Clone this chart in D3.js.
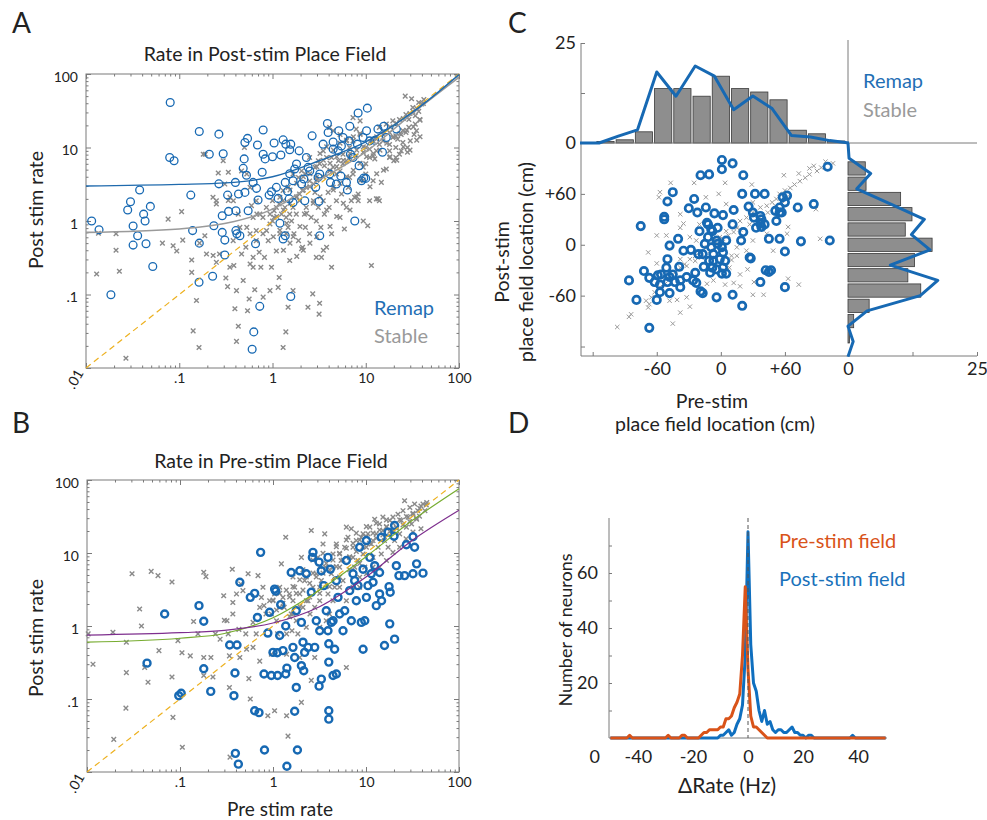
<!DOCTYPE html>
<html>
<head>
<meta charset="utf-8">
<script src="https://cdn.jsdelivr.net/npm/d3@7"></script>
<style>
  body { margin: 0; background: #fff; }
  text { font-family: Lato, "Open Sans", sans-serif; }
</style>
</head>
<body>
<script>
// ---- panel A: rate in post-stim place field, [pre, post] Hz
var remapA = [
  [0.0115,1.0],[0.0138,0.76],[0.0185,0.099],[0.028,1.41],[0.030,1.83],[0.0376,2.64],[0.032,0.855],[0.0358,0.63],
  [0.032,0.47],[0.0415,1.24],[0.043,1.0],[0.049,1.58],[0.044,0.49],[0.052,0.24],[0.079,7.3],[0.088,6.6],[0.08,41],
  [0.133,2.25],[0.139,0.74],[0.164,16.5],[0.164,0.50],[0.163,0.147],[0.21,8.1],[0.228,0.177],[0.266,15.2],[0.266,3.2],
  [0.296,8.2],[0.289,1.18],[0.235,0.86],[0.289,0.70],[0.308,0.55],[0.308,0.345],[0.33,2.25],[0.338,1.35],[0.40,3.35],
  [0.405,1.38],[0.405,0.74],[0.415,0.67],[0.447,0.63],[0.432,2.33],[0.497,7.0],[0.506,11.7],[0.54,13.3],[0.485,5.2],
  [0.526,4.2],[0.506,2.45],[0.548,1.38],[0.658,0.49],[0.62,3.35],[0.674,2.78],[0.69,10.8],[0.70,1.93],[0.73,0.069],
  [0.63,0.031],[0.605,0.018],[0.794,17.3],[0.794,8.1],[0.775,4.6],[0.834,7.0],[0.92,2.25],[0.975,2.5],[1.0,7.5],
  [1.04,11.5],[1.10,2.87],[1.15,2.03],[1.23,7.9],[1.30,12.7],[1.39,11.1],[1.53,9.3],[1.57,11.1],[1.37,3.35],[1.45,2.53],
  [1.51,2.0],[1.20,0.93],[1.30,0.57],[1.37,0.63],[1.57,0.094],[1.53,4.4],[1.66,3.53],[1.73,5.1],[1.81,5.96],[1.66,1.79],
  [1.93,9.0],[2.05,3.18],[2.17,3.72],[2.22,1.89],[2.31,7.3],[2.41,5.37],[2.51,4.8],[2.66,14.4],[2.91,2.87],[3.08,3.92],
  [3.21,4.36],[3.16,1.85],[3.21,0.63],[3.49,11.1],[3.88,21.2],[3.95,16.0],[4.11,4.36],[4.18,3.35],[4.47,11.9],[4.47,9.5],
  [4.85,3.18],[5.06,9.0],[5.14,16.9],[5.48,10.5],[5.71,13.7],[5.40,4.1],[6.21,3.35],[6.36,2.64],[6.74,19.5],[6.85,8.1],
  [6.63,12.3],[7.31,7.3],[7.63,1.0],[8.28,29.4],[8.14,11.1],[8.49,5.65],[9.0,3.53],[9.36,13.7],[9.52,3.84],[10,3.8],
  [10.2,16.9],[10.4,34.3],[11.0,12.3],[12.5,12.5],[13.5,17.8],[15.1,8.6],[15.6,19.5],[16.6,13.7],[21.3,17.8]
];
var stableA = [
  [0.013,0.19],[0.0136,0.68],[0.021,0.40],[0.0228,0.207],[0.021,0.67],[0.0268,0.0136],[0.066,0.50],[0.076,1.06],
  [0.086,0.46],[0.094,0.39],[0.106,1.34],[0.109,0.55],[0.136,0.295],[0.136,0.2],[0.141,0.032],[0.153,0.083],[0.163,0.019],
  [0.181,8.1],[0.165,0.50],[0.188,0.63],[0.196,0.356],[0.231,0.34],[0.25,1.89],[0.262,4.5],[0.25,0.274],[0.27,0.356],
  [0.296,6.6],[0.308,3.18],[0.316,0.168],[0.33,0.128],[0.336,4.6],[0.349,0.235],[0.379,0.54],[0.385,0.248],[0.411,0.113],
  [0.395,0.064],[0.43,0.037],[0.411,0.023],[0.43,1.24],[0.447,0.82],[0.466,0.356],[0.485,0.155],[0.518,0.44],[0.54,0.06],
  [0.562,0.087],[0.575,0.26],[0.595,1.62],[0.62,0.32],[0.62,0.235],[0.645,0.116],[0.67,0.54],[0.68,1.24],[0.72,0.375],
  [0.75,0.235],[0.794,0.092],[0.82,0.32],[0.863,0.74],[0.9,0.54],[0.94,0.113],[0.975,0.235],[1.0,1.0],[1.04,1.38],
  [1.1,0.39],[1.15,0.125],[1.18,0.17],[1.2,0.67],[1.25,1.24],[1.3,0.019],[1.36,1.53],[1.39,0.031],[1.4,0.67],[1.47,0.82],
  [1.47,0.067],[1.53,0.29],[1.6,1.0],[1.66,0.113],[1.7,0.67],[1.8,1.24],[1.9,0.54],[1.95,1.89],[2.05,0.42],[2.1,0.44],
  [2.2,1.24],[2.25,0.82],[2.3,1.53],[2.4,0.067],[2.5,0.67],[2.6,1.12],[2.7,0.102],[2.75,1.89],[2.85,2.45],[2.95,0.32],
  [2.95,1.0],[3.1,1.53],[3.16,0.054],[3.2,0.076],[3.3,0.82],[3.35,0.32],[3.5,1.89],[3.6,1.24],[3.8,0.44],[3.95,2.45],
  [4.05,1.53],[4.3,0.235],[4.3,0.67],[4.47,2.87],[4.85,1.89],[5.3,1.12],[5.5,2.33],[5.9,0.78],[6.2,1.53],[6.5,2.87],
  [7.0,1.89],[7.6,2.1],[8.3,2.33],[9.4,1.0],[10.5,0.86],[11,1.89],[11.5,0.248],[12,3.53],[12.5,7.0],[13.5,2.0],[14,1.89],
  [14.7,3.35],[16.6,5.1],[18,7.3],[20,6.6],[21,10],[23,8.1],[25,11.7],[26.5,50],[31,46],[29,24],[28,10],[32,31],[34,27],
  [37,31],[40,39],[35,16.9],[33,15],[30,12.3],[27,16],[24,15],[22,13],[19.5,13.7],[18,11],[15.3,15],[14,11],[13,9],
  [12,7.7],[11,7.3],[10,6],[9.4,5.4],[8.7,23],[7.9,17.8],[7.3,12.3],[6.7,10],[6.2,6.6],[5.7,6],[5.3,4.8],[4.85,4.36],
  [4.47,5.4],[4.1,4.8],[3.8,7.3],[3.5,9],[3.2,6],[2.95,3.9],[2.75,3.18],[2.5,3.5],[2.3,2.87],[2.1,2.6],[1.95,2.33],
  [1.8,2.1],[1.66,1.53],[1.53,1.24],[1.4,1.12],[1.3,1.89],[1.2,2.1],[1.1,1.53],[1.0,1.89],[0.94,1.24],[0.86,1.53],
  [0.79,1.12],[0.73,1.24],[0.67,1.89],[0.62,1.12],[0.575,2.87],[0.53,4.36],[0.5,10],[0.466,4.8],[0.38,1.89],[0.35,2.1],
  [0.336,1.9],[0.25,1.7],[0.23,2.1],[0.19,8.1],[4.47,16.9],[4.1,18.8],[5.3,15],[6.2,12.3],[7.3,25.5],[8.7,15],[10,10],
  [12,12.3],[14,18.8],[16.6,20.8],[19.5,23],[23,24],[27,28],[32,35],[37,41],[42,45],[38,24],[34,20.8],[29,18.8],[25,17],
  [21,14.4],[18,16],[15.3,12.3],[13,13],[11,9.5],[9.4,8.6],[7.9,7.7],[6.7,7.3],[5.7,8.1],[5.1,6.6],[4.3,7.3],[3.6,5.65],
  [3.1,6.6],[2.85,5.4],[2.5,7.3],[2.25,4.36],[2.05,4.8],[1.9,3.9],[1.66,4.36],[1.47,2.87],[1.3,2.6],[1.18,1.7],[1.04,1.12],
  [0.94,0.91],[0.79,0.67],[0.67,0.74],[0.575,0.67],[0.53,0.82],[18,9],[21,7.3],[24,9],[28,8.6],[10,4.36],[8.7,3.53],
  [7.3,4.36],[8.3,1.89],[6.7,3.92],[13,2.0],
  [1.11,1.15],[1.31,1.41],[1.54,1.74],[1.82,2.14],[2.14,2.64],[2.52,2.93],[2.98,3.6],[3.51,4.0],[4.14,4.9],[4.88,5.5],
  [5.75,6.7],[6.78,8.3],[8.0,9.2],[9.42,10.2],[11.1,12],[13.1,14],[15.5,16.4],[18.2,19.1],[21.5,21.2],[25.3,24.8],
  [29.8,29],[35.2,34],[41.5,39.7],[1.2,0.75],[1.42,0.93],[1.67,0.61],[1.97,0.84],[2.32,1.27],[2.74,1.74],[3.23,2.14],
  [3.81,1.41],[4.49,2.64],[5.3,3.25],[6.24,4.0],[7.36,4.9],[8.68,6.1],[10.2,7.5],[12.1,8.3],[14.2,9.2],[16.8,11.4],
  [19.8,14],[23.3,15.5],[27.5,17.2],[32.4,19.1],[38.2,23.6],[1.54,0.5],[2.14,0.4],[2.98,0.61],[4.14,0.84],[5.75,1.74],
  [8.0,2.14],[11.1,2.93],[15.5,4.9],[21.5,6.7],[29.8,9.2],[38.2,14],[1.02,0.61],[1.31,0.4],[1.82,0.33],[2.52,0.5],
  [3.51,0.4],[4.88,1.15],[6.78,1.41],[9.42,3.6],[13.1,4.4],[18.2,7.5],[25.3,10.2],[35.2,12.6],[3.23,8.3],[3.81,10.2],
  [4.49,9.2],[5.3,11.4],[6.24,12.6],[7.36,14],[8.68,15.5],[4.88,7.5],[4.14,6.1],[3.51,6.7],[2.98,5.5],[2.52,4.4],
  [2.14,4.0],[1.82,3.25],[1.54,2.64]
];
var fitRemapA = [[0.01,3.0],[0.1,3.15],[0.316,3.3],[1,4.0],[3.16,6.6],[10,11.9],[31.6,30],[100,98]];
var fitStableA = [[0.01,0.70],[0.1,0.78],[0.316,0.93],[1,1.45],[3.16,3.6],[10,8.7],[31.6,29],[100,90]];

// ---- panel B: rate in pre-stim place field
var remapB = [
  [0.0442,0.31],[0.0684,1.46],[0.097,0.111],[0.103,0.12],[0.16,1.9],[0.18,1.16],[0.18,0.26],[0.214,0.127],[0.342,0.55],
  [0.41,0.55],[0.39,0.227],[0.38,0.111],[0.394,0.018],[0.424,0.0128],[0.44,3.97],[0.57,2.47],[0.635,2.8],[0.68,1.31],
  [0.635,0.069],[0.707,0.065],[0.736,10.2],[0.88,0.80],[0.92,1.54],[0.80,0.22],[0.96,0.21],[0.81,0.02],[1.04,3.2],
  [1.07,3.0],[1.21,1.96],[1.18,0.74],[1.0,0.435],[1.11,0.43],[1.28,0.46],[1.37,1.0],[1.12,0.21],[1.37,0.22],[1.41,0.265],
  [1.57,5.4],[1.41,0.012],[1.64,0.51],[1.71,0.37],[1.78,0.144],[1.83,0.02],[1.71,0.068],[1.78,1.62],[1.94,5.7],[2.02,1.12],
  [2.1,0.6],[2.02,0.286],[2.14,0.244],[2.19,0.435],[2.28,5.2],[2.38,0.51],[2.58,2.9],[2.65,8.7],[2.69,10.2],[2.81,0.51],
  [2.92,1.18],[3.13,7.5],[3.18,0.86],[3.31,5.7],[3.31,0.187],[3.13,0.15],[3.51,3.57],[3.74,1.62],[3.9,0.86],[4.13,6.0],
  [3.9,8.7],[3.98,0.57],[3.98,0.32],[3.98,0.069],[3.98,0.053],[4.24,1.12],[4.42,1.18],[4.42,0.21],[4.6,0.48],[4.8,0.22],
  [4.8,4.18],[5.0,2.47],[5.2,1.46],[5.66,0.86],[5.9,1.62],[6.15,7.9],[6.67,3.05],[6.95,1.18],[7.25,5.2],[7.55,4.18],
  [7.87,2.22],[8.2,3.57],[8.55,12],[8.9,1.12],[9.3,0.48],[9.7,1.18],[9.3,6.0],[10.1,14.8],[10.1,2.47],[10.5,3.57],[11,8.7],
  [11.4,5.2],[11.9,3.97],[12.4,6.7],[12.9,1.9],[14,2.75],[14,5.4],[14.6,16.4],[14.7,2.22],[15.8,0.54],[17.3,19.3],
  [17.7,3.46],[18.2,2.9],[18,1.07],[20,17],[20.3,0.66],[20.3,23.8],[21.2,6.7],[22.6,4.9],[26,4.9],[27.2,13],[32,16.7],
  [33.3,12],[41,5.3],[32,5.2],[35,7.1]
];
var stableB = [
  [0.0103,0.78],[0.0116,0.30],[0.019,0.82],[0.0194,0.028],[0.0265,0.6],[0.0265,0.23],[0.0262,0.075],[0.0305,5.2],
  [0.0368,1.71],[0.0385,1.0],[0.0417,0.27],[0.0453,0.17],[0.049,5.6],[0.058,4.9],[0.0594,0.46],[0.082,4.0],[0.082,0.2],
  [0.084,0.056],[0.095,0.63],[0.105,0.43],[0.106,0.0218],[0.129,0.39],[0.14,1.15],[0.156,0.78],[0.18,5.45],[0.19,4.75],
  [0.18,0.37],[0.18,0.21],[0.215,0.37],[0.226,0.2],[0.24,0.78],[0.27,0.66],[0.295,2.6],[0.3,1.2],[0.32,1.18],[0.33,0.78],
  [0.34,0.39],[0.34,0.144],[0.345,0.016],[0.365,6.0],[0.37,2.1],[0.405,2.75],[0.43,0.9],[0.45,3.77],[0.475,3.05],[0.51,0.78],
  [0.54,5.2],[0.55,0.19],[0.57,0.1],[0.61,0.51],[0.66,0.78],[0.69,4.9],[0.72,1.8],[0.75,2.47],[0.78,3.4],[0.8,1.9],
  [0.84,1.46],[0.88,0.059],[0.92,2.22],[0.96,1.46],[1.0,2.22],[1.04,2.75],[1.04,0.069],[1.09,1.18],[1.12,0.78],[1.18,3.4],
  [1.23,7.1],[1.28,2.47],[1.32,1.8],[1.37,16.4],[1.4,0.059],[1.45,0.031],[1.5,2.75],[1.57,1.46],[1.6,0.86],[1.64,2.22],
  [1.71,3.4],[1.78,1.18],[1.85,0.78],[1.94,2.75],[2.02,0.09],[2.02,8.7],[2.1,1.8],[2.19,4.18],[2.28,0.96],[2.38,2.22],
  [2.5,1.46],[2.58,20.3],[2.58,0.18],[2.69,3.4],[2.81,1.8],[2.92,5.2],[3.04,8.7],[3.18,2.22],[3.31,4.18],[3.45,13.3],
  [3.6,18.3],[3.66,6.4],[3.9,2.75],[4.05,1.46],[4.24,5.2],[4.42,9.7],[4.6,3.4],[4.8,13.3],[5.2,6.4],[5.4,7.9],[5.66,4.18],
  [5.9,12],[6.15,22.6],[6.4,16.4],[6.67,8.7],[6.95,21.5],[7.25,12],[7.55,6.4],[7.87,14.8],[8.2,7.9],[8.55,4.65],[8.9,16.4],
  [9.3,9.7],[9.7,6.4],[10.1,12],[10.5,18.3],[11,22.6],[11.4,13.3],[11.9,8.7],[12.4,29],[12.9,18.3],[13.5,12],[14,25],
  [14.6,9.7],[15.2,31],[15.8,14.8],[16.6,22.6],[17.3,12],[18,28],[18.7,20.3],[19.5,31],[20.3,14.8],[21.2,22.6],[22.1,34],
  [23,18.3],[24,28],[25,38],[26,52],[27.2,22.6],[28.4,31],[29.6,42],[30.9,25],[32,34],[33.3,47],[35,29],[36,38],[37.6,32],
  [39,44],[41,47],[43,38],[45,49],[39,21.5],[32,19.3],[27,15.6],[23,12],[19.5,10.2],[16.6,7.9],[14,6.4],[11.9,6.4],
  [10.1,5.2],[8.55,3.4],[7.25,3.4],[6.15,2.22],[5.2,3.4],[4.42,2.22],[3.74,1.18],[3.18,0.96],[6.15,0.27],[2.81,0.37],
  [1.94,0.37],[1.4,0.41],[0.96,0.41],[0.72,0.33],[0.61,1.12],[0.52,0.48],[0.44,0.37],[0.37,1.46],[5.2,9.7],[7.25,8.7],
  [9.3,18.3],[11.9,14.8],[15.2,20.3],[19.5,20.3],[4.42,6.4],[3.18,3.4],[2.28,2.22],[1.64,1.46],[1.18,1.8],[1.4,0.78],
  [1.0,2.27],[1.18,2.8],[1.39,3.1],[1.64,3.46],[1.94,4.3],[2.28,4.7],[2.69,5.3],[3.18,6.5],[3.74,7.2],[4.42,8.0],
  [5.2,9.9],[6.15,11.6],[7.25,13.6],[8.55,15.1],[10.1,16.8],[11.9,18.7],[14,20.7],[16.6,23],[19.5,25.6],[23,28.4],
  [27.2,31.6],[32,35],[37.8,41],[44.5,45.6],[1.09,1.66],[1.28,2.05],[1.51,2.5],[1.78,2.8],[2.1,3.1],[2.48,3.85],
  [2.92,4.7],[3.45,5.3],[4.06,5.9],[4.8,6.5],[5.66,8.0],[6.67,8.9],[7.87,10.5],[9.3,12.2],[10.9,13.6],[12.9,15.9],
  [15.2,17.7],[18,19.7],[21.2,21.9],[25,24.3],[29.5,27],[34.8,30],[4.8,12.2],[6.15,15.1],[7.87,18.7],[10.1,23],
  [12.9,25.6],[16.6,28.4],[3.45,9.9],[2.69,8.0],[2.1,5.9],[1.64,4.7],[1.51,1.34],[1.94,1.84],[2.48,2.5],[3.18,2.8],
  [4.06,3.46],[5.2,4.7],[6.67,5.9],[8.55,7.2]
];
var fitPurpleB = [[0.01,0.75],[0.1,0.81],[0.3,0.87],[1,1.1],[3.16,1.84],[10,4.7],[31.6,15],[100,38.6]];
var fitGreenB = [[0.01,0.60],[0.1,0.68],[0.3,0.79],[1,1.3],[3.16,3.1],[10,8.9],[31.6,28],[100,76]];
var unityLine = [[0.01,0.01],[100,100]];

// ---- panel C: place field location, [pre, post] cm
var remapC = [
  [1,100],[11,96],[1,89],[-19,82],[-11,83],[21,82],[100,92],[-45,62],[-50,51],[-25,54],[-30,43],[-22,38],[-14,44],
  [-6,37],[2,35],[12,41],[20,60],[32,60],[41,60],[26,45],[30,38],[31,32],[37,25],[38,21],[51,40],[55,44],[58,56],
  [62,58],[60,50],[57,38],[52,28],[72,44],[87,48],[102,5],[75,4],[60,-8],[55,7],[45,7],[27,-15],[19,5],[21,15],[11,24],
  [-3,20],[-12,24],[-8,16],[-20,16],[-12,9],[-3,1],[2,-9],[-7,-11],[-11,-19],[2,-27],[5,-34],[1,-34],[-4,-29],[-8,-27],
  [-16,-26],[-21,-11],[-28,-6],[-35,-7],[-40,7],[-48,-1],[-53,33],[-53,30],[-75,22],[-72,-31],[-67,-39],[-50,-17],
  [-51,-27],[-39,-26],[-45,-35],[-56,-35],[-59,-36],[-62,-44],[-57,-47],[-50,-44],[-48,-38],[-43,-44],[-38,-50],
  [-57,-56],[-60,-65],[-48,-57],[-38,-42],[-32,-38],[-24,-33],[-26,-42],[-23,-45],[-19,-55],[-17,-57],[-4,-62],[11,-59],
  [20,-72],[-86,-42],[-79,-65],[-67,-98],[28,-16],[37,-44],[42,-30],[47,-30],[60,-50],[45,-32],[-13,26],[-9,18],[-15,1],
  [-9,-3],[-4,5],[1,-3],[5,5],[-17,-11],[-7,-19],[-1,-17],[4,-19],[-10,-33],[33,20],[37,34],[41,24],[38,30],[55,38]
];
var stableC = [
  [-97,-97],[-86,-85],[-84,-82],[-70,-66],[-67,-70],[-68,-74],[-45,-93],[-38,-80],[-29,-73],[-60,-22],[-68,-9],[-60,11],
  [-57,62],[-58,56],[-47,73],[-25,73],[-14,56],[-2,60],[4,73],[29,71],[59,82],[73,84],[83,90],[87,93],[98,98],[105,96],
  [89,42],[93,7],[63,21],[63,-40],[73,-47],[30,-59],[40,-59],[12,-45],[18,-49],[4,-47],[-7,-42],[-13,-46],[-32,-62],
  [-41,-65],[-48,-66],[25,-29],[31,-44],[-38,20],[-35,25],[10,-18],[10,-13],[15,-13],[24,-7],[7,11],[15,20],[18,28],
  [24,32],[30,38],[37,44],[43,46],[48,50],[52,54],[55,60],[60,64],[65,67],[69,71],[74,75],[79,79],[83,83],[90,87],[94,91],
  [5,16],[-1,9],[-7,5],[-13,-3],[-20,-9],[-24,-13],[-29,-17],[-34,-23],[-38,-27],[-43,-33],[-48,-38],[-52,-46],[-57,-50],
  [-62,-56],[-65,-62],[-32,-25],[-24,-19],[-18,-15],[-10,-7],[-3,1],[2,7],[12,15],[18,18],[27,24],[35,30],[44,38],[51,46],
  [57,52],[62,56],[-51,11],[-38,-17],[-29,9],[15,-3],[30,5],[43,13],[62,13],[49,-7],[8,-27],[18,-35],[-23,5],[-20,24],
  [-38,36],[5,48],[30,50]
];
var binCenters = [-108,-90,-72,-54,-36,-18,0,18,36,54,72,90,108];
var stablePreCount = [0.4,0.8,2.8,13.6,13.6,11.7,16.7,13.6,12.75,10.8,3.2,2.3,0.5];
var stablePostCount = [0.3,1.1,4.1,14.1,11.6,12.9,16.3,11.1,12.4,10.2,3.5,3.35,0];
var remapBins = [-132,-114,-96,-78,-60,-42,-24,-6,12,30,48,66,84,102,120];
var remapPreCount = [0,0,1.7,3.3,17.75,11.7,19.25,16.7,8.3,11.75,8.6,1.9,1.5,0.6,0];
var remapPostCount = [0,1.0,0,3.7,14,17.4,8.2,15.9,12.3,14.8,8.3,1.7,4.4,0.2,0];

// ---- panel D: distribution of rate change, 1 Hz bins from -50 to 50
var rateBins = d3.range(-50, 51);
var preFieldCount = [
  0,0,0,0,0,0,0,1,0,0,0,0,0,0,0,0,0,0,0,0,0,1,0,0,0,0,1,1,0,0,0,0,0,
  1,2,2,3,3,3,3,4,4,7,7,8,11,13,16,30,55,25,8,4,4,3,2,1,
  0,0,0,0,0,0,0,0,0,0,0,0,0,0,0,0,0,0,0,0,0,0,0,0,0,0,0,0,0,0,0,0,0,0,0,0,0,0,0,0,0,0,0,0
];
var postFieldCount = [
  0,0,0,0,0,0,0,0,0,0,0,0,0,0,0,0,0,0,0,0,0,0,0,0,0,0,0,0,0,0,0,0,0,0,0,0,0,0,0,0,
  1,1,2,3,1,2,5,7,12,30,75,34,20,17,10,6,10,5,6,3,2,3,3,2,2,3,4,2,2,1,1,0,1,1,
  0,0,0,0,0,0,0,0,0,0,0,0,0,0,1,0,0,0,0,0,0,0,0,0,0,0,0
];

var BLUE = "#1769b3", GREY = "#8a8a8a", AXIS = "#7a7a7a", TXT = "#222";
var svg = d3.select("body").append("svg").attr("width", 987).attr("height", 820);

function cross(s) {
    return "M" + (-s) + "," + (-s) + "L" + s + "," + s + "M" + (-s) + "," + s + "L" + s + "," + (-s);
}
function label(x, y, str, size, opts) {
    opts = opts || {};
    var t = svg.append("text").attr("x", x).attr("y", y).text(str)
        .attr("font-size", size).attr("fill", opts.fill || TXT)
        .attr("text-anchor", opts.anchor || "start");
    if (opts.rotate) t.attr("transform", "rotate(" + opts.rotate + "," + x + "," + y + ")");
    return t;
}
function styleAxis(g, size) {
    g.select(".domain").remove();
    g.selectAll(".tick line").attr("stroke", AXIS);
    g.selectAll(".tick text").attr("fill", TXT).attr("font-size", size)
        .attr("font-family", "Lato, 'Open Sans', sans-serif");
    return g;
}

// log-log scatter panel (A and B)
function logPanel(box, remap, stable, ring, fits) {
    var x = d3.scaleLog().domain([0.01, 100]).range([box.l, box.r]),
        y = d3.scaleLog().domain([0.01, 100]).range([box.b, box.t]);
    var minor = [];
    [0.01, 0.1, 1, 10].forEach(function (d) {
        for (var m = 2; m < 10; m++) minor.push(d * m);
    });
    var major = [0.01, 0.1, 1, 10, 100];
    var fmt = function (d) { return d === 0.01 ? "" : String(d).replace(/^0\./, "."); };
    var sides = [
        [d3.axisBottom(x), "translate(0," + box.b + ")", true],
        [d3.axisTop(x), "translate(0," + box.t + ")", false],
        [d3.axisLeft(y), "translate(" + box.l + ",0)", true],
        [d3.axisRight(y), "translate(" + box.r + ",0)", false]
    ];
    sides.forEach(function (s, i) {
        var vertical = i > 1;
        styleAxis(svg.append("g").attr("transform", s[1])
            .call(s[0].tickValues(minor).tickSize(-2.5).tickFormat("")), 14);
        var g = styleAxis(svg.append("g").attr("transform", s[1])
            .call(s[0].tickValues(major).tickSize(-5).tickPadding(vertical ? 8 : 5)
                .tickFormat(s[2] ? fmt : "")), 14);
        if (vertical) g.selectAll(".tick text").attr("dy", "0.5em");
    });
    svg.append("rect").attr("x", box.l).attr("y", box.t)
        .attr("width", box.r - box.l).attr("height", box.b - box.t)
        .attr("fill", "none").attr("stroke", AXIS).attr("stroke-width", 1);
    label(box.l - 2, box.b + 5, ".01", 14, { anchor: "end", rotate: -60 });

    svg.append("g").selectAll("path").data(stable).enter().append("path")
        .attr("d", cross(2.3))
        .attr("transform", function (d) { return "translate(" + x(d[0]) + "," + y(d[1]) + ")"; })
        .attr("stroke", GREY).attr("stroke-width", 1.4).attr("fill", "none");
    svg.append("g").selectAll("circle").data(remap).enter().append("circle")
        .attr("cx", function (d) { return x(d[0]); })
        .attr("cy", function (d) { return y(d[1]); })
        .attr("r", ring.r).attr("fill", "none").attr("stroke", BLUE).attr("stroke-width", ring.w);

    var line = d3.line().x(function (d) { return x(d[0]); }).y(function (d) { return y(d[1]); })
        .curve(d3.curveMonotoneX);
    fits.forEach(function (f) {
        svg.append("path").attr("d", line(f.data)).attr("fill", "none")
            .attr("stroke", f.color).attr("stroke-width", f.w || 1.3)
            .attr("stroke-dasharray", f.dash || null);
    });
}

// ---- A
label(12, 33, "A", 28);
label(265, 61, "Rate in Post-stim Place Field", 19.5, { anchor: "middle" });
logPanel({ l: 86, r: 459, t: 74, b: 368 }, remapA, stableA, { r: 3.9, w: 1.3 }, [
    { data: unityLine, color: "#EDB120", dash: "6,4", w: 1.2 },
    { data: fitStableA, color: "#9a9a9a", w: 1.6 },
    { data: fitRemapA, color: "#1f6aad", w: 1.4 }
]);
label(43, 210, "Post stim rate", 19.5, { anchor: "middle", rotate: -90 });
label(374, 315, "Remap", 20, { fill: "#1f6fb5" });
label(374, 343, "Stable", 20, { fill: "#9a9a9a" });

// ---- B
label(12, 433, "B", 28);
label(271, 468, "Rate in Pre-stim Place Field", 19.5, { anchor: "middle" });
logPanel({ l: 87, r: 459, t: 480, b: 772 }, remapB, stableB, { r: 3.5, w: 2.4 }, [
    { data: unityLine, color: "#EDB120", dash: "6,4", w: 1.2 },
    { data: fitGreenB, color: "#77AC30", w: 1.2 },
    { data: fitPurpleB, color: "#7E2F8E", w: 1.2 }
]);
label(43, 638, "Post stim rate", 19.5, { anchor: "middle", rotate: -90 });
label(280, 816, "Pre stim rate", 19, { anchor: "middle" });

// ---- C
label(508, 33, "C", 28);
var xC = d3.scaleLinear().domain([-130, 120]).range([582, 849]),
    yC = d3.scaleLinear().domain([-130, 120]).range([355, 143]),
    yTop = d3.scaleLinear().domain([0, 25]).range([143, 43]),
    xRight = d3.scaleLinear().domain([0, 25]).range([848, 977]);

svg.append("g").selectAll("rect").data(binCenters).enter().append("rect")
    .attr("x", function (d) { return xC(d - 9) + 1; })
    .attr("width", xC(9) - xC(-9) - 2)
    .attr("y", function (d, i) { return yTop(stablePreCount[i]); })
    .attr("height", function (d, i) { return yTop(0) - yTop(stablePreCount[i]); })
    .attr("fill", "#8e8e8e").attr("stroke", "#3a3a3a").attr("stroke-width", 0.8);
svg.append("g").selectAll("rect").data(binCenters).enter().append("rect")
    .attr("y", function (d) { return yC(d + 9) + 1; })
    .attr("height", yC(-9) - yC(9) - 2)
    .attr("x", xRight(0))
    .attr("width", function (d, i) { return xRight(stablePostCount[i]) - xRight(0); })
    .attr("fill", "#8e8e8e").attr("stroke", "#3a3a3a").attr("stroke-width", 0.8);

svg.append("line").attr("x1", 581).attr("x2", 581).attr("y1", 43).attr("y2", 356).attr("stroke", AXIS);
svg.append("line").attr("x1", 581).attr("x2", 977).attr("y1", 356).attr("y2", 356).attr("stroke", AXIS);
svg.append("line").attr("x1", 581).attr("x2", 977).attr("y1", 143).attr("y2", 143).attr("stroke", AXIS);
svg.append("line").attr("x1", 848).attr("x2", 848).attr("y1", 40).attr("y2", 143).attr("stroke", AXIS);

var signed = function (d) { return d === -120 ? "" : (d > 0 ? "+" + d : String(d)); };
styleAxis(svg.append("g").attr("transform", "translate(581,0)")
    .call(d3.axisLeft(yC).tickValues([-120, -60, 0, 60]).tickSize(-4).tickPadding(5).tickFormat(signed)), 18);
styleAxis(svg.append("g").attr("transform", "translate(581,0)")
    .call(d3.axisLeft(yTop).tickValues([0, 12.5, 25]).tickSize(-4).tickPadding(5)
        .tickFormat(function (d) { return d === 12.5 ? "" : d; })), 18);
styleAxis(svg.append("g").attr("transform", "translate(0,356)")
    .call(d3.axisBottom(xC).tickValues([-120, -60, 0, 60]).tickSize(-4).tickPadding(6).tickFormat(signed)), 18);
styleAxis(svg.append("g").attr("transform", "translate(0,356)")
    .call(d3.axisBottom(xRight).tickValues([0, 12.5, 25]).tickSize(-4).tickPadding(6)
        .tickFormat(function (d) { return d === 12.5 ? "" : d; })), 18);

svg.append("g").selectAll("path").data(stableC).enter().append("path")
    .attr("d", cross(2.2))
    .attr("transform", function (d) { return "translate(" + xC(d[0]) + "," + yC(d[1]) + ")"; })
    .attr("stroke", "#9a9a9a").attr("stroke-width", 1).attr("fill", "none");
svg.append("g").selectAll("circle").data(remapC).enter().append("circle")
    .attr("cx", function (d) { return xC(d[0]); })
    .attr("cy", function (d) { return yC(d[1]); })
    .attr("r", 3.7).attr("fill", "none").attr("stroke", BLUE).attr("stroke-width", 2.7);

var clipC = svg.append("clipPath").attr("id", "clipC");
clipC.append("rect").attr("x", 580).attr("y", 30).attr("width", 400).attr("height", 327);
svg.append("path").attr("clip-path", "url(#clipC)")
    .attr("d", d3.line().x(function (d) { return xC(d); })
        .y(function (d, i) { return yTop(remapPreCount[i]); })(remapBins))
    .attr("fill", "none").attr("stroke", BLUE).attr("stroke-width", 3).attr("stroke-linejoin", "round");
svg.append("path").attr("clip-path", "url(#clipC)")
    .attr("d", d3.line().y(function (d) { return yC(d); })
        .x(function (d, i) { return xRight(remapPostCount[i]); })(remapBins))
    .attr("fill", "none").attr("stroke", BLUE).attr("stroke-width", 3).attr("stroke-linejoin", "round");

label(863, 88, "Remap", 20, { fill: "#1f6fb5" });
label(863, 117, "Stable", 20, { fill: "#9a9a9a" });
label(712, 408, "Pre-stim", 19.5, { anchor: "middle" });
label(715, 431, "place field location (cm)", 19.5, { anchor: "middle" });
label(509, 262, "Post-stim", 19.5, { anchor: "middle", rotate: -90 });
label(533, 262, "place field location (cm)", 19.5, { anchor: "middle", rotate: -90 });

// ---- D
label(508, 433, "D", 28);
var xD = d3.scaleLinear().domain([-50.5, 50.5]).range([609, 887]),
    yD = d3.scaleLinear().domain([0, 80]).range([738, 518]);
styleAxis(svg.append("g").attr("transform", "translate(609,0)")
    .call(d3.axisLeft(yD).tickValues([10, 20, 30, 40, 50, 60, 70]).tickSize(-3).tickPadding(11)
        .tickFormat(function (d) { return d % 20 === 0 ? d : ""; })), 18);
svg.append("line").attr("x1", 609).attr("x2", 609).attr("y1", 518).attr("y2", 738).attr("stroke", AXIS);
svg.append("line").attr("x1", 609).attr("x2", 887).attr("y1", 738).attr("y2", 738).attr("stroke", AXIS);
styleAxis(svg.append("g").attr("transform", "translate(0,738)")
    .call(d3.axisBottom(xD).tickValues([-40, -20, 0, 20, 40]).tickSize(0).tickPadding(12)
        .tickFormat(function (d) { return String(d); })), 18);
label(600, 763, "0", 18, { anchor: "end" });

var lineD = function (counts) {
    return d3.line().x(function (d) { return xD(d); })
        .y(function (d, i) { return yD(counts[i]); })(rateBins);
};
svg.append("path").attr("d", lineD(postFieldCount)).attr("fill", "none")
    .attr("stroke", "#0f6fbf").attr("stroke-width", 3).attr("stroke-linejoin", "round");
svg.append("path").attr("d", lineD(preFieldCount)).attr("fill", "none")
    .attr("stroke", "#D95319").attr("stroke-width", 3).attr("stroke-linejoin", "round");
svg.append("line").attr("x1", xD(0)).attr("x2", xD(0)).attr("y1", yD(80)).attr("y2", yD(0))
    .attr("stroke", "#555").attr("stroke-width", 1).attr("stroke-dasharray", "4,3");

label(779, 548, "Pre-stim field", 20, { fill: "#D95319" });
label(779, 586, "Post-stim field", 20, { fill: "#1a72bb" });
label(727, 793, "\u0394Rate (Hz)", 21, { anchor: "middle" });
label(572, 630, "Number of neurons", 18, { anchor: "middle", rotate: -90 });
</script>
</body>
</html>
